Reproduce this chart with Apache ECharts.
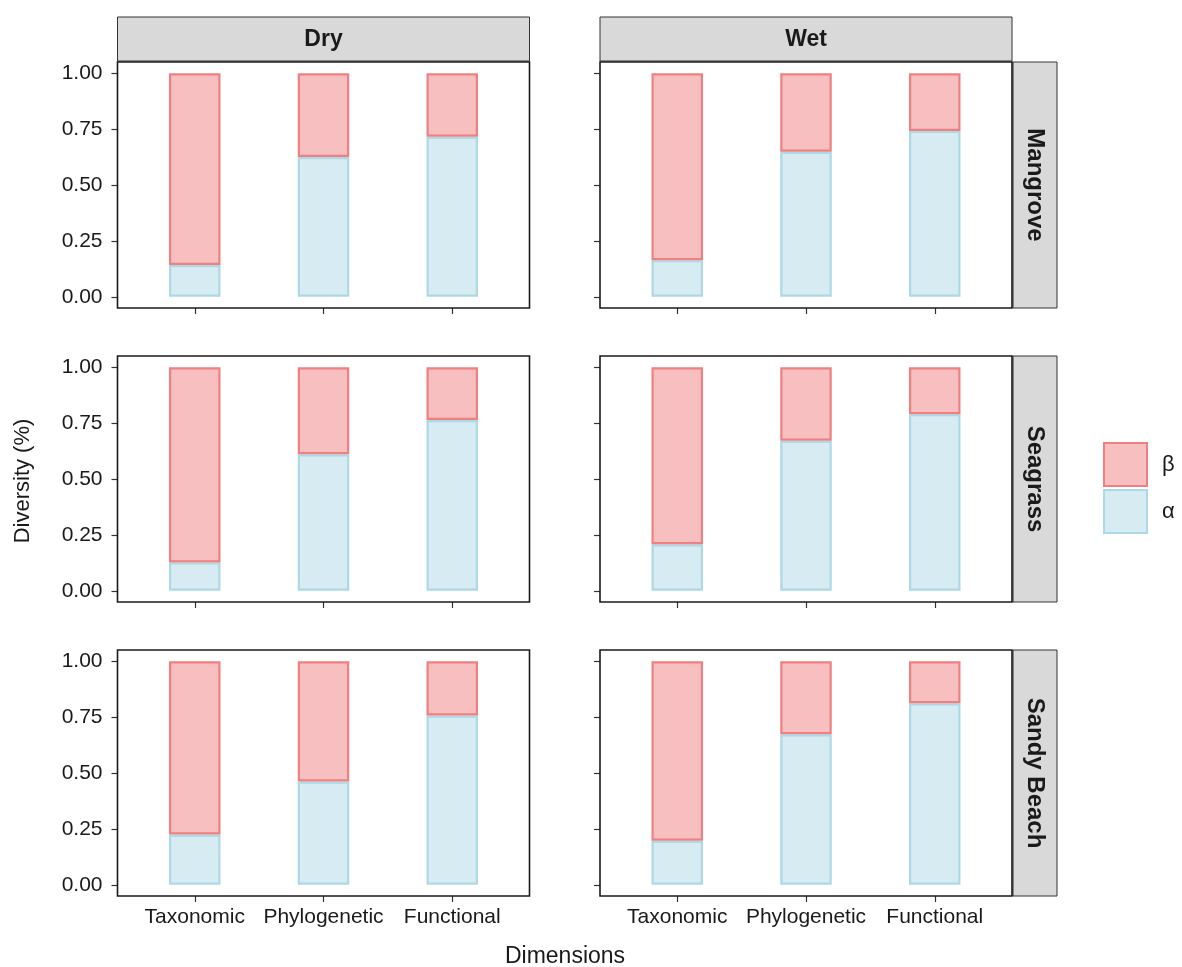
<!DOCTYPE html>
<html>
<head>
<meta charset="utf-8">
<script src="https://cdn.jsdelivr.net/npm/echarts@6/dist/echarts.min.js"></script>
<style>html,body{margin:0;padding:0;background:#fff}#c{width:1182px;height:967px}</style>
</head>
<body>
<div id="c"></div>
<script>
const categories = ['Taxonomic', 'Phylogenetic', 'Functional'];
const seasons = ['Dry', 'Wet'];
const habitats = ['Mangrove', 'Seagrass', 'Sandy Beach'];

const alphaDryMangrove = [0.142, 0.625, 0.716];
const betaDryMangrove  = [0.858, 0.375, 0.284];
const alphaWetMangrove = [0.164, 0.649, 0.742];
const betaWetMangrove  = [0.836, 0.351, 0.258];
const alphaDrySeagrass = [0.127, 0.611, 0.764];
const betaDrySeagrass  = [0.873, 0.389, 0.236];
const alphaWetSeagrass = [0.208, 0.671, 0.790];
const betaWetSeagrass  = [0.792, 0.329, 0.210];
const alphaDrySandy    = [0.225, 0.462, 0.757];
const betaDrySandy     = [0.775, 0.538, 0.243];
const alphaWetSandy    = [0.197, 0.673, 0.812];
const betaWetSandy     = [0.803, 0.327, 0.188];

const panels = [
  [alphaDryMangrove, betaDryMangrove], [alphaWetMangrove, betaWetMangrove],
  [alphaDrySeagrass, betaDrySeagrass], [alphaWetSeagrass, betaWetSeagrass],
  [alphaDrySandy, betaDrySandy],       [alphaWetSandy, betaWetSandy]
];

const FONT = '"Liberation Sans", Helvetica, Arial, sans-serif';
const panelLeft = [117.5, 600];
const panelW = 412;
const unit = panelW / 3.2;
const panelTop = [62, 356, 650];
const panelH = 246;
const yUnit = panelH / 1.1;

const alphaStyle = { color: 'rgba(173,216,230,0.5)', borderColor: '#add8e6', borderWidth: 2.2 };
const betaStyle  = { color: 'rgba(240,128,128,0.5)', borderColor: '#f08080', borderWidth: 2.2 };

const grids = [], xAxes = [], yAxes = [], series = [], graphics = [];
for (let r = 0; r < 3; r++) {
  for (let c = 0; c < 2; c++) {
    const i = r * 2 + c;
    const gl = panelLeft[c] + 0.1 * unit;
    const gt = panelTop[r] + 0.05 * yUnit;
    grids.push({ left: gl, top: gt, width: 3 * unit, height: yUnit, containLabel: false });
    xAxes.push({
      type: 'category', gridIndex: i, data: categories, show: false
    });
    yAxes.push({
      type: 'value', gridIndex: i, min: 0, max: 1, interval: 0.25, offset: 0.1 * unit,
      axisLine: { show: true, lineStyle: { color: 'rgba(0,0,0,0)' } },
      splitLine: { show: false },
      axisTick: { show: true, inside: false, length: 6, lineStyle: { color: '#333', width: 1.2 } },
      axisLabel: { show: c === 0, margin: 15, fontSize: 21, color: '#1a1a1a', fontFamily: FONT,
                   formatter: v => v.toFixed(2) }
    });
    series.push({
      name: 'α', type: 'bar', xAxisIndex: i, yAxisIndex: i, stack: 's' + i,
      barWidth: '40%', data: panels[i][0], itemStyle: alphaStyle, silent: true
    });
    series.push({
      name: 'β', type: 'bar', xAxisIndex: i, yAxisIndex: i, stack: 's' + i,
      barWidth: '40%', data: panels[i][1], itemStyle: betaStyle, silent: true
    });
    graphics.push({
      type: 'rect', z: 100,
      shape: { x: panelLeft[c], y: panelTop[r], width: panelW, height: panelH },
      style: { fill: 'none', stroke: '#1a1a1a', lineWidth: 1.6 }
    });
  }
}
for (let r = 0; r < 3; r++) {
  for (let c = 0; c < 2; c++) {
    const g = grids.length;
    grids.push({ left: panelLeft[c] + 0.1 * unit, top: panelTop[r], width: 3 * unit, height: panelH, containLabel: false });
    xAxes.push({
      type: 'category', gridIndex: g, data: categories, position: 'bottom',
      axisLine: { show: false },
      axisTick: { show: true, interval: 0, alignWithLabel: true, length: 6, lineStyle: { color: '#333', width: 1.2 } },
      axisLabel: { show: r === 2, interval: 0, margin: 11, fontSize: 21, color: '#1a1a1a', fontFamily: FONT }
    });
    yAxes.push({ type: 'value', gridIndex: g, show: false, min: 0, max: 1 });
  }
}
for (let c = 0; c < 2; c++) {
  graphics.push({
    type: 'rect', shape: { x: panelLeft[c], y: 17, width: panelW, height: 44 },
    style: { fill: '#d9d9d9', stroke: '#333', lineWidth: 1 }
  });
  graphics.push({
    type: 'text', x: panelLeft[c] + panelW / 2, y: 40,
    style: { text: seasons[c], fontSize: 23, fontWeight: 'bold', fontFamily: FONT, fill: '#1a1a1a',
             align: 'center', verticalAlign: 'middle' }
  });
}
for (let r = 0; r < 3; r++) {
  graphics.push({
    type: 'rect', shape: { x: 1013, y: panelTop[r], width: 44, height: panelH },
    style: { fill: '#d9d9d9', stroke: '#333', lineWidth: 1 }
  });
  graphics.push({
    type: 'text', x: 1034.5, y: panelTop[r] + panelH / 2, rotation: -Math.PI / 2,
    style: { text: habitats[r], fontSize: 24, fontWeight: 'bold', fontFamily: FONT, fill: '#1a1a1a',
             align: 'center', verticalAlign: 'middle' }
  });
}
graphics.push({
  type: 'text', x: 23, y: 481, rotation: Math.PI / 2,
  style: { text: 'Diversity (%)', fontSize: 22, fontFamily: FONT, fill: '#1a1a1a', align: 'center', verticalAlign: 'middle' }
});
graphics.push({
  type: 'text', x: 565, y: 957,
  style: { text: 'Dimensions', fontSize: 23, fontFamily: FONT, fill: '#1a1a1a', align: 'center', verticalAlign: 'middle' }
});

const chart = echarts.init(document.getElementById('c'), null, { renderer: 'canvas' });
chart.setOption({
  animation: false,
  backgroundColor: '#fff',
  grid: grids, xAxis: xAxes, yAxis: yAxes, series: series,
  legend: {
    data: ['β', 'α'], orient: 'vertical', left: 1103, top: 442, padding: 0,
    itemWidth: 43, itemHeight: 43, itemGap: 2, icon: 'rect',
    textStyle: { fontSize: 22, fontFamily: FONT, color: '#1a1a1a', padding: [0, 0, 0, 10] },
    selectedMode: false
  },
  graphic: graphics
});
</script>
</body>
</html>
